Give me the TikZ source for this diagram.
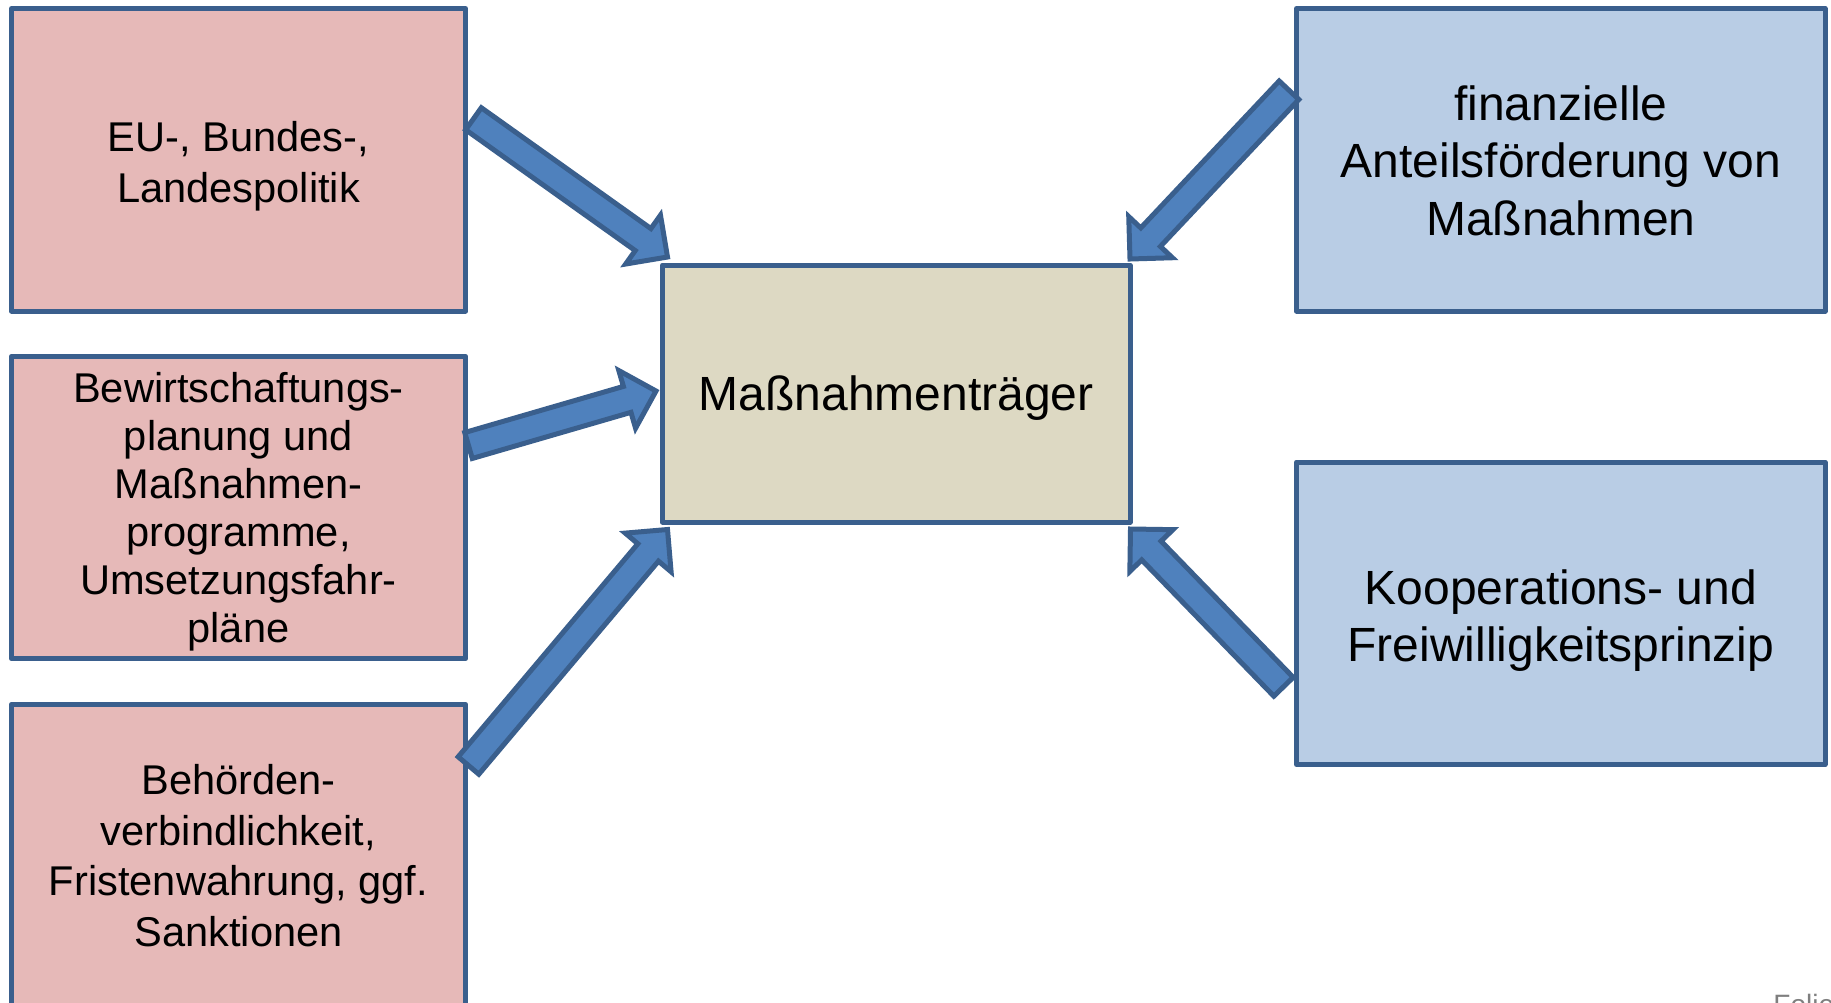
\documentclass[tikz,border=0pt]{standalone}
\usepackage{fontspec}
\setmainfont{Liberation Sans}
\usepackage{xcolor}
\usetikzlibrary{calc}

\definecolor{rahmen}{HTML}{3A5F8D}
\definecolor{pfeil}{HTML}{4F81BD}
\definecolor{rosa}{HTML}{E6B9B8}
\definecolor{hellblau}{HTML}{B9CDE5}
\definecolor{beige}{HTML}{DDD9C3}
\definecolor{grau}{HTML}{7F7F7F}

\tikzset{
  lbox/.style={draw=rahmen, fill=rosa, line width=2.5pt, line join=round, inner sep=0pt, outer sep=0pt,
    minimum width=227pt, minimum height=151.25pt, align=center, font=\fontsize{20.8}{25.2}\selectfont},
  rbox/.style={lbox, fill=hellblau, minimum width=264.25pt, font=\fontsize{24}{28.6}\selectfont},
  mbox/.style={lbox, fill=beige, minimum width=233.75pt, minimum height=128.5pt, font=\fontsize{24}{28.6}\selectfont},
  blockpfeil/.style={draw=rahmen, fill=pfeil, line width=2.5pt, line join=miter}
}

% centred lines, lowered a little inside the box
\newcommand{\boxtext}[2][2.5pt]{\raisebox{-#1}[\height][\depth]{\begin{tabular}{@{}c@{}}#2\end{tabular}}}

% block arrow from #1 (tail) to #2 (tip)
\newcommand{\blockarrow}[2]{%
  \coordinate (hb) at ($(#2)!15pt!(#1)$);
  \draw[blockpfeil] ($(#1)!6.75pt!90:(#2)$) -- ($(hb)!6.75pt!90:(#2)$) -- ($(hb)!15pt!90:(#2)$) -- (#2)
    -- ($(hb)!15pt!-90:(#2)$) -- ($(hb)!6.75pt!-90:(#2)$) -- ($(#1)!6.75pt!-90:(#2)$) -- cycle;}

\begin{document}
\begin{tikzpicture}[x=0.5pt,y=0.5pt,yscale=-1,xscale=1]
\clip (0,0) rectangle (1831,1002);

%Shape: left boxes
\node[lbox] (eu) at (238.5,159.75) {\boxtext[3.5pt]{EU-, Bundes-,\\Landespolitik}};
\node[lbox, font=\fontsize{20.8}{24}\selectfont] (plan) at (238.5,507.5) {\boxtext{Bewirtschaftungs-\\planung und\\Maßnahmen-\\programme,\\Umsetzungsfahr-\\pläne}};
\node[lbox] (behoerde) at (238.5,855.5) {\boxtext[2.5pt]{Behörden-\\verbindlichkeit,\\Fristenwahrung, ggf.\\Sanktionen}};

%Shape: centre box
\node[mbox] (traeger) at (896.25,393.5) {\boxtext[2.8pt]{Maßnahmenträger}};

%Shape: right boxes
\node[rbox] (foerder) at (1560.75,159.75) {\boxtext[3.4pt]{finanzielle\\Anteilsförderung von\\Maßnahmen}};
\node[rbox] (koop) at (1560.75,613.25) {\boxtext[4.2pt]{Kooperations- und\\Freiwilligkeitsprinzip}};

% Arrow ends
\coordinate (eut) at ($(eu.east)+(8,-41)$);
\coordinate (eutip) at ($(traeger.north west)+(5,-8)$);
\coordinate (plant) at ($(plan.east)+(3,-62)$);
\coordinate (plantip) at ($(traeger.west)+(-6.5,-2.5)$);
\coordinate (behoerdet) at ($(behoerde.east)+(3,-90)$);
\coordinate (behoerdetip) at ($(traeger.south west)+(5,7.5)$);
\coordinate (foerdert) at ($(foerder.west)+(-7.5,-69.5)$);
\coordinate (foerdertip) at ($(traeger.north east)+(0,-6)$);
\coordinate (koopt) at ($(koop.west)+(-13,73.5)$);
\coordinate (kooptip) at ($(traeger.south east)+(0.5,7)$);

% Arrows
\blockarrow{eut}{eutip}
\blockarrow{plant}{plantip}
\blockarrow{behoerdet}{behoerdetip}
\blockarrow{foerdert}{foerdertip}
\blockarrow{koopt}{kooptip}

% Text Node
\node[anchor=base west, inner sep=0pt, text=grau, font=\fontsize{14}{17}\selectfont] (folie) at (1773,1014) {Folie};

\end{tikzpicture}
\end{document}
